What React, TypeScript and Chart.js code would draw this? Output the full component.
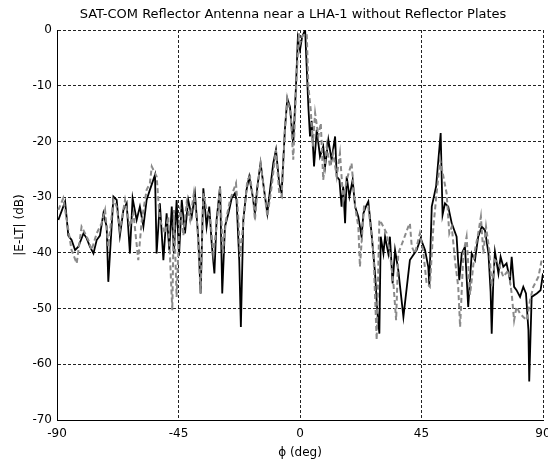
import React, { useEffect, useRef } from "react";
import { Chart, registerables } from "chart.js";

Chart.register(...registerables);

const titleText = "SAT-COM Reflector Antenna near a LHA-1 without Reflector Plates";
const xTitle = "\u03d5 (deg)";
const yTitle = "|E-LT| (dB)";

const xTicks = [-90, -45, 0, 45, 90];
const yTicks = [-70, -60, -50, -40, -30, -20, -10, 0];

const blackAngles = [
  -89.5, -87.0, -85.8, -84.6, -83.3, -82.1, -80.2, -79.0, -77.8, -76.5, -75.3, -74.1, -72.8, -71.6, -71.0,
  -69.1, -67.9, -66.7, -65.4, -64.2, -63.0, -62.0, -60.5, -59.3, -58.0, -56.8, -55.6, -53.7, -53.1, -51.9,
  -50.6, -49.4, -48.4, -47.5, -46.7, -45.7, -44.8, -43.8, -42.6, -41.4, -40.1, -38.9, -37.7, -36.8, -35.8,
  -34.6, -33.6, -32.7, -31.7, -30.9, -29.6, -28.8, -27.8, -26.5, -25.3, -24.1, -23.5, -22.5, -21.9, -21.0,
  -19.8, -18.8, -17.5, -16.7, -15.8, -14.6, -13.3, -12.1, -11.1, -9.9, -8.9, -7.7, -6.8, -5.6, -4.7,
  -3.7, -3.1, -2.5, -1.5, -0.8, 0.0, 0.8, 1.9, 3.1, 3.7, 4.3, 5.2, 6.2, 7.4, 8.6,
  9.3, 10.5, 11.7, 13.0, 13.6, 14.6, 15.4, 16.0, 16.7, 17.3, 18.3, 19.5, 20.4, 21.6, 22.8,
  23.5, 24.4, 25.3, 26.5, 27.8, 28.6, 29.4, 29.9, 30.9, 31.5, 32.7, 33.3, 34.3, 35.2, 36.4,
  38.3, 40.7, 43.2, 44.7, 46.3, 47.5, 47.9, 48.8, 50.4, 52.1, 52.8, 53.7, 54.9, 56.2, 58.0,
  59.0, 59.9, 61.1, 62.3, 63.6, 64.8, 66.0, 67.3, 68.5, 69.8, 70.6, 71.0, 71.6, 72.2, 73.5,
  74.3, 75.3, 76.5, 77.8, 78.4, 79.3, 80.2, 81.5, 82.7, 83.7, 84.6, 84.9, 85.8, 87.7, 89.1, 90.0,
];
const blackValues = [
  -34.1, -30.8, -36.9, -37.7, -39.5, -38.9, -36.5, -37.4, -38.9, -40.1, -37.7, -36.9, -32.9, -35.3, -45.2,
  -29.9, -30.5, -36.9, -32.3, -31.1, -40.1, -30.2, -34.1, -31.7, -35.3, -30.5, -28.7, -26.0, -40.1, -31.1,
  -41.3, -32.9, -39.5, -31.7, -40.1, -30.5, -40.5, -30.5, -36.5, -30.5, -33.5, -29.4, -37.1, -47.3, -28.4,
  -35.3, -31.7, -38.3, -43.7, -34.1, -28.1, -47.3, -35.3, -32.9, -30.2, -29.3, -30.5, -41.3, -53.3, -34.1,
  -28.7, -26.3, -29.9, -32.9, -28.1, -23.9, -28.7, -32.9, -28.7, -23.9, -21.5, -27.5, -29.3, -17.9, -12.3,
  -13.8, -17.3, -20.5, -10.2, -1.5, -3.6, -1.2, 0.0, -13.8, -19.1, -16.3, -24.5, -17.9, -22.7, -20.9,
  -24.5, -19.7, -23.3, -19.1, -26.3, -26.9, -31.7, -28.1, -34.7, -26.3, -29.9, -26.9, -31.7, -33.5, -37.1,
  -32.9, -31.7, -30.8, -36.5, -43.7, -50.3, -54.5, -37.1, -40.1, -37.1, -40.1, -37.1, -45.5, -39.5, -43.1,
  -51.5, -41.3, -39.5, -37.4, -39.5, -42.5, -45.8, -31.7, -28.1, -18.5, -33.2, -31.1, -31.7, -34.7, -37.1,
  -44.9, -40.1, -38.9, -49.7, -40.1, -41.3, -37.1, -35.3, -35.9, -40.1, -47.0, -54.5, -44.9, -39.8, -43.7,
  -40.7, -42.5, -41.9, -44.9, -40.7, -46.1, -46.7, -47.9, -46.1, -47.3, -53.9, -63.1, -47.9, -47.3, -46.7, -43.7,
];

const grayAngles = [
  -89.5, -87.7, -84.6, -82.7, -80.9, -79.6, -78.4, -77.2, -75.3, -73.5, -72.2, -71.0, -69.1, -67.9, -66.7,
  -64.8, -63.0, -61.7, -59.9, -58.6, -56.8, -55.6, -54.9, -53.1, -51.9, -50.0, -48.8, -48.2, -47.3, -46.7,
  -45.7, -44.4, -43.2, -42.0, -40.7, -39.3, -38.0, -36.8, -35.8, -34.6, -33.3, -32.1, -30.9, -29.6, -28.6,
  -27.4, -25.9, -23.7, -22.8, -22.2, -21.0, -19.5, -18.5, -17.3, -16.7, -15.4, -14.6, -13.3, -12.1, -10.5,
  -8.9, -7.7, -6.8, -5.6, -4.7, -3.5, -2.5, -1.2, -0.4, 0.0, 1.0, 2.5, 3.1, 4.0, 4.7,
  5.6, 6.8, 7.7, 8.6, 9.9, 11.1, 12.3, 13.6, 14.8, 16.0, 17.3, 19.1, 20.4, 21.6, 22.2,
  23.7, 25.3, 27.2, 28.4, 29.4, 30.2, 32.1, 33.3, 34.6, 35.6, 36.4, 38.3, 40.1, 40.7, 41.4,
  42.6, 44.4, 45.7, 46.9, 48.1, 49.4, 50.6, 51.9, 53.1, 54.3, 55.3, 56.2, 57.4, 58.6, 59.3,
  60.5, 61.7, 63.0, 64.8, 66.0, 67.0, 67.9, 68.9, 70.1, 71.0, 72.2, 73.5, 75.3, 77.2, 78.4,
  79.3, 80.2, 81.5, 82.7, 84.0, 85.2, 86.4, 88.3, 89.5,
];
const grayValues = [
  -32.3, -30.2, -39.5, -41.9, -35.3, -36.5, -37.7, -39.5, -36.5, -34.7, -32.3, -38.9, -30.5, -31.7, -35.9,
  -30.5, -35.3, -32.9, -41.3, -34.1, -28.7, -27.5, -24.5, -26.3, -34.1, -36.5, -33.5, -40.1, -50.3, -32.3,
  -47.9, -31.7, -36.9, -31.1, -34.1, -29.3, -35.3, -47.3, -29.3, -32.3, -33.5, -40.1, -35.3, -28.1, -40.1,
  -34.1, -30.5, -27.5, -34.1, -40.7, -34.7, -26.9, -26.3, -30.5, -34.1, -26.9, -23.9, -28.7, -33.5, -28.1,
  -21.5, -29.3, -29.9, -17.9, -12.3, -14.9, -23.3, -7.8, -0.6, -2.4, -1.0, -0.6, -10.2, -14.4, -20.9,
  -14.9, -19.1, -16.7, -26.9, -20.9, -24.5, -22.1, -26.3, -22.1, -30.5, -26.9, -23.9, -31.7, -35.3, -42.5,
  -31.7, -31.7, -40.1, -55.6, -34.1, -34.7, -36.5, -40.1, -45.5, -52.1, -40.1, -37.7, -35.3, -34.7, -38.9,
  -40.1, -36.5, -40.1, -45.5, -46.1, -35.3, -29.3, -23.3, -26.3, -29.3, -36.5, -35.3, -41.3, -46.1, -53.3,
  -40.1, -37.1, -47.5, -39.5, -36.5, -33.5, -40.1, -35.3, -39.5, -46.1, -41.3, -41.9, -44.3, -43.1, -47.3,
  -52.1, -49.7, -50.9, -51.5, -52.1, -48.5, -46.1, -44.3, -41.3,
];

const FONT = "'DejaVu Sans', 'Liberation Sans', Arial, sans-serif";

export default function App() {
  const canvasRef = useRef<HTMLCanvasElement | null>(null);

  useEffect(() => {
    document.body.style.margin = "0";
    const canvas = canvasRef.current;
    if (!canvas) return;

    const titlePlugin = {
      id: "matlabTitle",
      afterDraw(chart: any) {
        const ctx = chart.ctx;
        ctx.save();
        ctx.font = `13px ${FONT}`;
        ctx.fillStyle = "#000";
        ctx.textAlign = "center";
        ctx.textBaseline = "middle";
        ctx.fillText(titleText, 293, 15);
        ctx.restore();
      },
    };

    const chart = new Chart(canvas, {
      type: "line",
      data: {
        datasets: [
          {
            label: "gray",
            data: grayAngles.map((a, i) => ({ x: a, y: grayValues[i] })),
            borderColor: "#8a8a8a",
            borderWidth: 2,
            borderDash: [5, 3],
            pointRadius: 0,
            tension: 0,
            fill: false,
            order: 0,
          },
          {
            label: "black",
            data: blackAngles.map((a, i) => ({ x: a, y: blackValues[i] })),
            borderColor: "#000000",
            borderWidth: 1.8,
            pointRadius: 0,
            tension: 0,
            fill: false,
            order: 1,
          },
        ],
      },
      options: {
        animation: false,
        responsive: true,
        maintainAspectRatio: false,
        layout: { padding: { top: 30, right: 5, left: 0, bottom: 0 } },
        plugins: {
          legend: { display: false },
          tooltip: { enabled: false },
          title: { display: false },
        },
        scales: {
          x: {
            type: "linear",
            min: -90,
            max: 90,
            afterBuildTicks: (scale: any) => {
              scale.ticks = xTicks.map((v) => ({ value: v }));
            },
            afterFit: (scale: any) => {
              scale.height = 45;
              scale.paddingLeft = 0;
              scale.paddingRight = 0;
            },
            grid: { color: "#222", lineWidth: 1, drawTicks: false },
            border: { display: true, color: "#000", width: 1, dash: [3, 2] },
            ticks: { color: "#000", font: { family: FONT, size: 12 }, padding: 7, maxRotation: 0, autoSkip: false },
            title: {
              display: true,
              text: xTitle,
              color: "#000",
              font: { family: FONT, size: 12 },
              padding: { top: 0, bottom: 5 },
            },
          },
          y: {
            type: "linear",
            min: -70,
            max: 0,
            afterBuildTicks: (scale: any) => {
              scale.ticks = yTicks.map((v) => ({ value: v }));
            },
            afterFit: (scale: any) => {
              scale.width = 57;
              scale.paddingTop = 0;
              scale.paddingBottom = 0;
            },
            grid: { color: "#222", lineWidth: 1, drawTicks: false },
            border: { display: true, color: "#000", width: 1, dash: [3, 2] },
            ticks: { color: "#000", font: { family: FONT, size: 12 }, padding: 5, autoSkip: false },
            title: {
              display: true,
              text: yTitle,
              color: "#000",
              font: { family: FONT, size: 12 },
              padding: { top: 13, bottom: 0 },
            },
          },
        },
      },
      plugins: [titlePlugin],
    });

    return () => {
      chart.destroy();
    };
  }, []);

  return (
    <div style={{ position: "relative", width: 548, height: 465 }}>
      <canvas ref={canvasRef} />
    </div>
  );
}
